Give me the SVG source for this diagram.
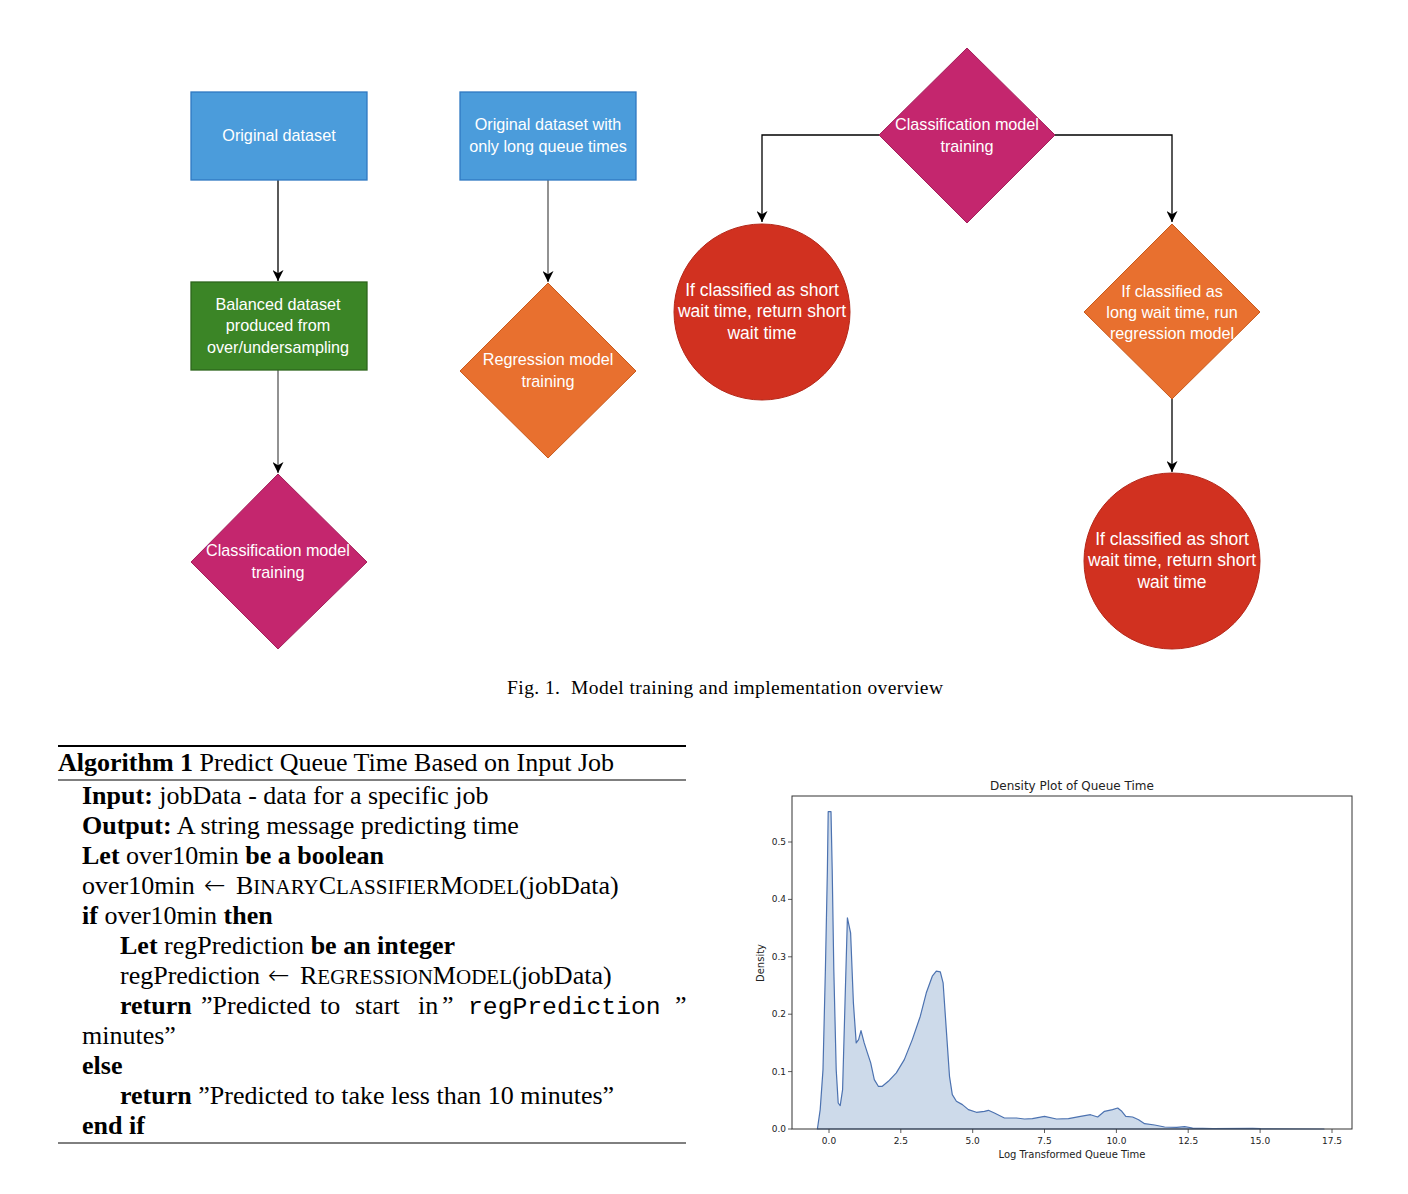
<svg xmlns="http://www.w3.org/2000/svg" width="1408" height="1194" viewBox="0 0 1408 1194">
<style>
.nt{font-family:"Liberation Sans",Arial,sans-serif;font-size:16.2px;fill:#fff;text-anchor:middle}
.nt16{font-family:"Liberation Sans",Arial,sans-serif;font-size:17.5px;fill:#fff;text-anchor:middle}
.blue{fill:#4B9CDB;stroke:#2F79C2;stroke-width:1.3}
.green{fill:#3B8526;stroke:#2D661C;stroke-width:1.3}
.mag{fill:#C4266E;stroke:#A3205B;stroke-width:1}
.orange{fill:#E8702F;stroke:#C85A1C;stroke-width:1}
.red{fill:#D13120;stroke:#B4281A;stroke-width:1}
.conn{fill:none;stroke:#000;stroke-width:1.3}
.conng{fill:none;stroke:#777;stroke-width:1.6}
.alg{font-family:"Liberation Serif","Times New Roman",serif;font-size:26px;fill:#000}
.b{font-weight:bold}
.sm{font-size:21px}
.arw{font-family:"DejaVu Sans",sans-serif;font-size:26px;font-weight:200}
.mono{font-family:"Liberation Mono","Courier New",monospace;font-size:24.7px}
.tick{font-family:"DejaVu Sans",sans-serif;font-size:9px;fill:#222}
.axl{font-family:"DejaVu Sans",sans-serif;font-size:10px;fill:#222}
</style>
<defs>
<marker id="arr" viewBox="0 0 10 10" refX="10" refY="5" markerWidth="11" markerHeight="11" markerUnits="userSpaceOnUse" orient="auto">
<path d="M0,0 L10,5 L0,10 L3,5 z" fill="#000"/>
</marker>
</defs>
<rect width="1408" height="1194" fill="#fff"/>

<g id="connectors">
<line class="conn" x1="278" y1="180" x2="278" y2="281" marker-end="url(#arr)"/>
<line class="conng" x1="278" y1="370" x2="278" y2="473" marker-end="url(#arr)"/>
<line class="conng" x1="548" y1="180" x2="548" y2="282" marker-end="url(#arr)"/>
<polyline class="conn" points="879,135 762,135 762,222" marker-end="url(#arr)"/>
<polyline class="conn" points="1055,135 1172,135 1172,222" marker-end="url(#arr)"/>
<line class="conn" x1="1172" y1="399" x2="1172" y2="472" marker-end="url(#arr)"/>
</g>

<g id="node-original">
<rect class="blue" x="191" y="92" width="176" height="88"/>
<text class="nt" x="279" y="141">Original dataset</text>
</g>
<g id="node-original-long">
<rect class="blue" x="460" y="92" width="176" height="88"/>
<text class="nt" x="548" y="130">Original dataset with</text>
<text class="nt" x="548" y="152">only long queue times</text>
</g>
<g id="node-balanced">
<rect class="green" x="191" y="282" width="176" height="88"/>
<text class="nt" x="278" y="310">Balanced dataset</text>
<text class="nt" x="278" y="331">produced from</text>
<text class="nt" x="278" y="353">over/undersampling</text>
</g>
<g id="node-class-train-left">
<polygon class="mag" points="278,474 367,562 278,649 191,562"/>
<text class="nt" x="278" y="556">Classification model</text>
<text class="nt" x="278" y="578">training</text>
</g>
<g id="node-regression">
<polygon class="orange" points="548,283 636,371 548,458 460,371"/>
<text class="nt" x="548" y="365">Regression model</text>
<text class="nt" x="548" y="387">training</text>
</g>
<g id="node-class-train-top">
<polygon class="mag" points="967,48 1055,135 967,223 879,135"/>
<text class="nt" x="967" y="130">Classification model</text>
<text class="nt" x="967" y="152">training</text>
</g>
<g id="node-short-left">
<circle class="red" cx="762" cy="312" r="88"/>
<text class="nt16" x="762" y="296">If classified as short</text>
<text class="nt16" x="762" y="317">wait time, return short</text>
<text class="nt16" x="762" y="339">wait time</text>
</g>
<g id="node-long">
<polygon class="orange" points="1172,224 1260,312 1172,399 1084,312"/>
<text class="nt" x="1172" y="297">If classified as</text>
<text class="nt" x="1172" y="318">long wait time, run</text>
<text class="nt" x="1172" y="339">regression model</text>
</g>
<g id="node-short-bottom">
<circle class="red" cx="1172" cy="561" r="88"/>
<text class="nt16" x="1172" y="545">If classified as short</text>
<text class="nt16" x="1172" y="566">wait time, return short</text>
<text class="nt16" x="1172" y="588">wait time</text>
</g>

<text x="725" y="694" font-family="Liberation Serif,'Times New Roman',serif" font-size="19.5" text-anchor="middle" textLength="436" lengthAdjust="spacing" xml:space="preserve">Fig. 1.  Model training and implementation overview</text>

<g id="algorithm">
<line x1="58" y1="746" x2="686" y2="746" stroke="#000" stroke-width="2"/>
<line x1="58" y1="780" x2="686" y2="780" stroke="#000" stroke-width="1"/>
<line x1="58" y1="1143" x2="686" y2="1143" stroke="#000" stroke-width="1"/>
<text class="alg" x="58" y="771"><tspan class="b">Algorithm 1</tspan> Predict Queue Time Based on Input Job</text>
<text class="alg" x="82" y="804"><tspan class="b">Input:</tspan> jobData - data for a specific job</text>
<text class="alg" x="82" y="834"><tspan class="b">Output:</tspan> A string message predicting time</text>
<text class="alg" x="82" y="864"><tspan class="b">Let</tspan> over10min <tspan class="b">be a boolean</tspan></text>
<text class="alg" y="894"><tspan x="82">over10min</tspan><tspan class="arw" x="204">←</tspan><tspan x="236">B</tspan><tspan class="sm">INARY</tspan>C<tspan class="sm">LASSIFIER</tspan>M<tspan class="sm">ODEL</tspan>(jobData)</text>
<text class="alg" x="82" y="924"><tspan class="b">if</tspan> over10min <tspan class="b">then</tspan></text>
<text class="alg" x="120" y="954"><tspan class="b">Let</tspan> regPrediction <tspan class="b">be an integer</tspan></text>
<text class="alg" y="984"><tspan x="120">regPrediction</tspan><tspan class="arw" x="268">←</tspan><tspan x="300">R</tspan><tspan class="sm">EGRESSION</tspan>M<tspan class="sm">ODEL</tspan>(jobData)</text>
<text class="alg" y="1014"><tspan class="b" x="120">return</tspan><tspan x="201">”Predicted</tspan><tspan x="320">to</tspan><tspan x="355">start</tspan><tspan x="418">in</tspan><tspan x="442">”</tspan><tspan class="mono" x="468">regPrediction</tspan><tspan x="675">”</tspan></text>
<text class="alg" x="82" y="1044">minutes”</text>
<text class="alg" x="82" y="1074"><tspan class="b">else</tspan></text>
<text class="alg" x="120" y="1104"><tspan class="b">return</tspan> ”Predicted to take less than 10 minutes”</text>
<text class="alg" x="82" y="1134"><tspan class="b">end if</tspan></text>
</g>

<g id="density-plot">
<text x="1072" y="790" font-family="DejaVu Sans,sans-serif" font-size="12" fill="#222" text-anchor="middle">Density Plot of Queue Time</text>
<path d="M817.4,1129 L820.2,1109.6 L823.0,1069.6 L825.4,969.5 L827.4,869.4 L828.2,811.7 L831.0,811.7 L832.2,869.4 L833.8,969.5 L836.2,1069.6 L838.2,1103 L840.2,1105.6 L842.6,1089.6 L845.0,1002.9 L847.4,917.8 L850.6,932.8 L853.4,1002.9 L856.2,1042.9 L858.6,1039.6 L861.0,1030.6 L864.2,1042.9 L867.4,1052.9 L870.7,1062.9 L874.3,1079.6 L878.3,1086.3 L882.3,1086.3 L888.3,1081.3 L896.3,1072.9 L904.3,1059.6 L912.3,1039.6 L920.3,1016.2 L926.3,992.8 L932.3,976.2 L936.3,971.2 L940.3,971.8 L943.1,982.8 L946.3,1029.6 L949.5,1076.3 L952.3,1094.6 L956.4,1101.3 L962.4,1104.6 L968.4,1109.6 L976.4,1112.3 L984.4,1111.3 L988.4,1110.3 L994.4,1113 L1004.4,1118 L1016.4,1118 L1024.4,1119 L1032.4,1118.7 L1044.5,1116.3 L1056.5,1119 L1068.5,1118.7 L1080.5,1116.3 L1090.5,1114.7 L1097.7,1117 L1104.5,1111.3 L1112.5,1109.6 L1117.7,1108 L1121.8,1111.3 L1125.8,1116.3 L1132.6,1117 L1138.6,1119.7 L1144.6,1123.7 L1154.6,1125 L1164.6,1127 L1176.6,1127.3 L1184.6,1126.7 L1192.6,1128 L1212.7,1128.7 L1252.7,1128.3 L1260.7,1128.7 L1324,1129 Z" fill="#cddaea" stroke="#4c72b0" stroke-width="1.2" stroke-linejoin="round"/>
<rect x="792" y="796" width="560" height="333" fill="none" stroke="#333" stroke-width="1"/>
<g stroke="#333" stroke-width="0.8">
<line x1="829" y1="1129" x2="829" y2="1133"/>
<line x1="900.8" y1="1129" x2="900.8" y2="1133"/>
<line x1="972.7" y1="1129" x2="972.7" y2="1133"/>
<line x1="1044.5" y1="1129" x2="1044.5" y2="1133"/>
<line x1="1116.4" y1="1129" x2="1116.4" y2="1133"/>
<line x1="1188.2" y1="1129" x2="1188.2" y2="1133"/>
<line x1="1260.1" y1="1129" x2="1260.1" y2="1133"/>
<line x1="1332" y1="1129" x2="1332" y2="1133"/>
<line x1="788" y1="1129" x2="792" y2="1129"/>
<line x1="788" y1="1071.6" x2="792" y2="1071.6"/>
<line x1="788" y1="1014.2" x2="792" y2="1014.2"/>
<line x1="788" y1="956.8" x2="792" y2="956.8"/>
<line x1="788" y1="899.4" x2="792" y2="899.4"/>
<line x1="788" y1="842" x2="792" y2="842"/>
</g>
<g class="tick" text-anchor="middle">
<text x="829" y="1144">0.0</text>
<text x="900.8" y="1144">2.5</text>
<text x="972.7" y="1144">5.0</text>
<text x="1044.5" y="1144">7.5</text>
<text x="1116.4" y="1144">10.0</text>
<text x="1188.2" y="1144">12.5</text>
<text x="1260.1" y="1144">15.0</text>
<text x="1332" y="1144">17.5</text>
</g>
<g class="tick" text-anchor="end">
<text x="786" y="1132">0.0</text>
<text x="786" y="1074.6">0.1</text>
<text x="786" y="1017.2">0.2</text>
<text x="786" y="959.8">0.3</text>
<text x="786" y="902.4">0.4</text>
<text x="786" y="845">0.5</text>
</g>
<text class="axl" x="1072" y="1158" text-anchor="middle">Log Transformed Queue Time</text>
<text class="axl" transform="translate(764,963) rotate(-90)" text-anchor="middle">Density</text>
</g>
</svg>
